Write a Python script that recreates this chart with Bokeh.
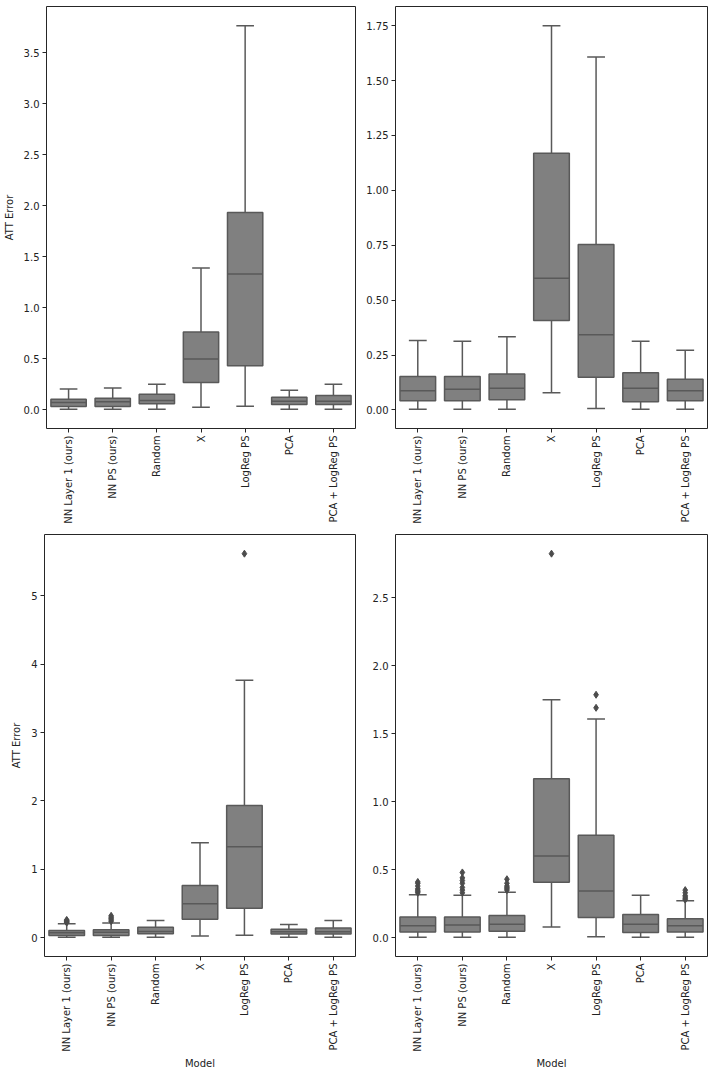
import math
from bokeh.plotting import figure
from bokeh.models import Range1d, FixedTicker, NumeralTickFormatter, ColumnDataSource
from bokeh.transform import dodge
from bokeh.layouts import column, row
from bokeh.embed import file_html
from bokeh.resources import INLINE

models = ["NN Layer 1 (ours)", "NN PS (ours)", "Random", "X", "LogReg PS", "PCA", "PCA + LogReg PS"]

# Dataset shown in the left column (top: without outliers, bottom: with outliers)
left_low = [0.006, 0.005, 0.005, 0.026, 0.035, 0.005, 0.005]
left_q1 = [0.032, 0.032, 0.059, 0.268, 0.432, 0.052, 0.052]
left_med = [0.072, 0.078, 0.091, 0.497, 1.331, 0.085, 0.085]
left_q3 = [0.104, 0.114, 0.153, 0.762, 1.933, 0.124, 0.140]
left_high = [0.204, 0.214, 0.251, 1.39, 3.765, 0.192, 0.251]
left_out_model = ["NN Layer 1 (ours)"] * 5 + ["NN PS (ours)"] * 5 + ["LogReg PS"]
left_out_value = [0.22, 0.23, 0.24, 0.25, 0.26, 0.24, 0.26, 0.28, 0.30, 0.32, 5.618]

# Dataset shown in the right column
right_low = [0.003, 0.003, 0.003, 0.079, 0.007, 0.003, 0.003]
right_q1 = [0.042, 0.042, 0.047, 0.407, 0.149, 0.038, 0.042]
right_med = [0.088, 0.094, 0.099, 0.600, 0.343, 0.099, 0.088]
right_q3 = [0.152, 0.152, 0.164, 1.169, 0.754, 0.170, 0.140]
right_high = [0.316, 0.313, 0.334, 1.750, 1.607, 0.313, 0.272]
right_out_model = (["NN Layer 1 (ours)"] * 7 + ["NN PS (ours)"] * 7 + ["Random"] * 6
                   + ["X"] + ["LogReg PS"] * 2 + ["PCA + LogReg PS"] * 6)
right_out_value = ([0.33, 0.34, 0.35, 0.36, 0.38, 0.40, 0.41]
                   + [0.33, 0.35, 0.37, 0.40, 0.42, 0.44, 0.48]
                   + [0.35, 0.36, 0.37, 0.38, 0.40, 0.43]
                   + [2.823] + [1.69, 1.786]
                   + [0.28, 0.29, 0.30, 0.31, 0.33, 0.35])

ticks_tl = [0.0, 0.5, 1.0, 1.5, 2.0, 2.5, 3.0, 3.5]
ticks_tr = [0.0, 0.25, 0.5, 0.75, 1.0, 1.25, 1.5, 1.75]
ticks_bl = [0, 1, 2, 3, 4, 5]
ticks_br = [0.0, 0.5, 1.0, 1.5, 2.0, 2.5]

FONT = "DejaVu Sans"
LINE = "#595959"
FILL = "#808080"
TXT = "#222222"


def make_panel(low, q1, med, q3, high, out_m, out_v, show_out, ticks, fmt,
               ylabel, xlabel, width, height, bl, br, bt, bb):
    vals = list(low) + list(high)
    if show_out:
        vals += list(out_v)
    lo, hi = min(vals), max(vals)
    pad = (hi - lo) * 0.05
    p = figure(x_range=models, y_range=Range1d(lo - pad, hi + pad),
               width=width, height=height, output_backend="svg",
               toolbar_location=None, min_border_left=bl, min_border_right=br,
               min_border_top=bt, min_border_bottom=bb)
    src = ColumnDataSource(dict(m=models, low=low, q1=q1, med=med, q3=q3, high=high))
    # whiskers
    p.segment(x0="m", y0="low", x1="m", y1="q1", source=src, line_color=LINE, line_width=1.5)
    p.segment(x0="m", y0="q3", x1="m", y1="high", source=src, line_color=LINE, line_width=1.5)
    # caps
    p.segment(x0=dodge("m", -0.2, range=p.x_range), y0="low",
              x1=dodge("m", 0.2, range=p.x_range), y1="low", source=src,
              line_color=LINE, line_width=1.5)
    p.segment(x0=dodge("m", -0.2, range=p.x_range), y0="high",
              x1=dodge("m", 0.2, range=p.x_range), y1="high", source=src,
              line_color=LINE, line_width=1.5)
    # boxes
    p.vbar(x="m", bottom="q1", top="q3", width=0.8, source=src,
           fill_color=FILL, line_color=LINE, line_width=1.5)
    # medians
    p.segment(x0=dodge("m", -0.4, range=p.x_range), y0="med",
              x1=dodge("m", 0.4, range=p.x_range), y1="med", source=src,
              line_color=LINE, line_width=1.5)
    if show_out:
        osrc = ColumnDataSource(dict(m=out_m, v=out_v))
        p.scatter(x="m", y="v", source=osrc, marker="diamond", size=7,
                  fill_color="#4c4c4c", line_color="#4c4c4c")
    p.grid.grid_line_color = None
    p.outline_line_color = "#262626"
    p.outline_line_width = 1
    p.yaxis.ticker = FixedTicker(ticks=ticks)
    p.yaxis.formatter = NumeralTickFormatter(format=fmt)
    for ax in (p.xaxis[0], p.yaxis[0]):
        ax.axis_line_color = None
        ax.major_tick_out = 4
        ax.major_tick_in = 0
        ax.minor_tick_out = 0
        ax.minor_tick_in = 0
        ax.major_tick_line_color = "#262626"
        ax.major_label_text_font = FONT
        ax.major_label_text_font_size = "10px"
        ax.major_label_text_color = TXT
        ax.axis_label_text_font = FONT
        ax.axis_label_text_font_size = "10px"
        ax.axis_label_text_font_style = "normal"
        ax.axis_label_text_color = TXT
        ax.major_label_standoff = 3
    p.xaxis.major_label_orientation = math.pi / 2
    p.xaxis.axis_label_standoff = 3
    p.yaxis.axis_label_standoff = 6
    if ylabel:
        p.yaxis.axis_label = ylabel
    if xlabel:
        p.xaxis.axis_label = xlabel
    return p


p1 = make_panel(left_low, left_q1, left_med, left_q3, left_high, left_out_model, left_out_value,
                False, ticks_tl, "0.0", "ATT Error", None, 356, 530, 44, 1, 6, 102)
p2 = make_panel(right_low, right_q1, right_med, right_q3, right_high, right_out_model, right_out_value,
                False, ticks_tr, "0.00", None, None, 356, 530, 39, 5, 6, 102)
p3 = make_panel(left_low, left_q1, left_med, left_q3, left_high, left_out_model, left_out_value,
                True, ticks_bl, "0", "ATT Error", "Model", 356, 542, 44, 1, 4, 116)
p4 = make_panel(right_low, right_q1, right_med, right_q3, right_high, right_out_model, right_out_value,
                True, ticks_br, "0.0", None, "Model", 356, 542, 39, 5, 4, 116)

layout = column(row(p1, p2), row(p3, p4))
open("out.html", "w").write(file_html(layout, INLINE))
